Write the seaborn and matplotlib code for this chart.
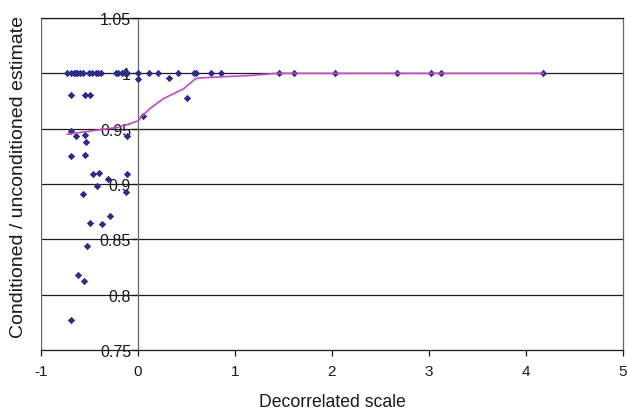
import numpy as np
import pandas as pd
import matplotlib
matplotlib.use("Agg")
import matplotlib.pyplot as plt
import seaborn as sns

# points
x_pts = [-0.729, -0.691, -0.660, -0.639, -0.626, -0.598, -0.564, -0.510, -0.477, -0.436,
         -0.409, -0.385, -0.230, -0.203, -0.168, -0.134, -0.110, 0.003, 0.110, 0.203,
         0.409, 0.577, 0.595, 0.750, 0.859, 1.457, 1.605, 2.031, 2.667, 3.021, 3.127, 4.178,
         0.005, -0.694, -0.546, -0.495, 0.320, 0.502, 0.048, -0.694, -0.639, -0.546,
         -0.536, -0.110, -0.694, -0.546, -0.467, -0.399, -0.306, -0.110, -0.420, -0.570,
         -0.124, -0.495, -0.368, -0.286, -0.526, -0.622, -0.557, -0.694]
y_pts = [1.0] * 32 + [
         0.995, 0.980, 0.980, 0.980, 0.9955, 0.978, 0.9617, 0.948, 0.943, 0.944,
         0.9376, 0.943, 0.925, 0.926, 0.909, 0.910, 0.9045, 0.909, 0.8984, 0.891,
         0.8924, 0.8647, 0.8638, 0.8713, 0.844, 0.818, 0.812, 0.7773]

# smoothed curve
x_line = [-0.73, -0.56, -0.22, -0.10, 0.0, 0.05, 0.12, 0.26, 0.47, 0.59, 0.64, 0.9,
          1.15, 1.43, 1.6, 2.03, 2.67, 3.02, 3.13, 4.18]
y_line = [0.945, 0.947, 0.951, 0.954, 0.957, 0.962, 0.968, 0.977, 0.986, 0.995, 0.9958,
          0.997, 0.998, 1.0, 1.0, 1.0, 1.0, 1.0, 1.0, 1.0]

XLIM = (-1, 5)
YLIM = (0.75, 1.05)
x_ticks = [-1, 0, 1, 2, 3, 4, 5]
y_ticks = [0.75, 0.8, 0.85, 0.9, 0.95, 1.0, 1.05]
y_ticklabels = ["0.75", "0.8", "0.85", "0.9", "0.95", "1", "1.05"]

sns.set_theme(style="white")
plt.rcParams["font.family"] = ["Liberation Sans", "DejaVu Sans"]
plt.rcParams["axes.unicode_minus"] = False

pts = pd.DataFrame({"x": x_pts, "y": y_pts})
curve = pd.DataFrame({"x": x_line, "y": y_line})

fig = plt.figure(figsize=(6.27, 4.10), dpi=100)
ax = fig.add_axes([0.0654, 0.1439, 0.9282, 0.8098])

for yv in y_ticks[1:]:
    ax.axhline(yv, color="#1a1a1a", lw=0.9, zorder=1)
ax.axvline(XLIM[0], color="#666666", lw=0.9, zorder=1)

sns.scatterplot(data=pts, x="x", y="y", marker="D", s=14, color="#2d2a8a",
                linewidth=0, ax=ax, zorder=3)
sns.lineplot(data=curve, x="x", y="y", color="#c04cc0", lw=1.2, ax=ax, zorder=4,
             sort=False)

ax.set_xlim(*XLIM)
ax.set_ylim(*YLIM)
ax.set_xticks(x_ticks)
ax.set_xticklabels([str(v) for v in x_ticks])
ax.set_yticks(y_ticks)
ax.set_yticklabels(y_ticklabels)

ax.spines["left"].set_position(("data", 0))
for side in ["left", "right", "top", "bottom"]:
    ax.spines[side].set_linewidth(0.9)
ax.spines["left"].set_color("#666666")
ax.spines["right"].set_color("#666666")
ax.spines["top"].set_color("#1a1a1a")
ax.spines["bottom"].set_color("#1a1a1a")

ax.tick_params(axis="both", direction="out", length=4, width=0.9, color="#1a1a1a",
               labelcolor="#1a1a1a", left=True, bottom=True)
ax.tick_params(axis="y", pad=1, labelsize=11.5)
ax.tick_params(axis="x", pad=6, labelsize=11)

ax.set_xlabel("Decorrelated scale", fontsize=12.7, color="#1a1a1a", labelpad=11)
ax.set_ylabel("")
fig.text(0.029, 0.568, "Conditioned / unconditioned estimate", rotation=90,
         ha="center", va="center", fontsize=14, color="#1a1a1a")

fig.savefig("out.png", dpi=100)
plt.close(fig)
